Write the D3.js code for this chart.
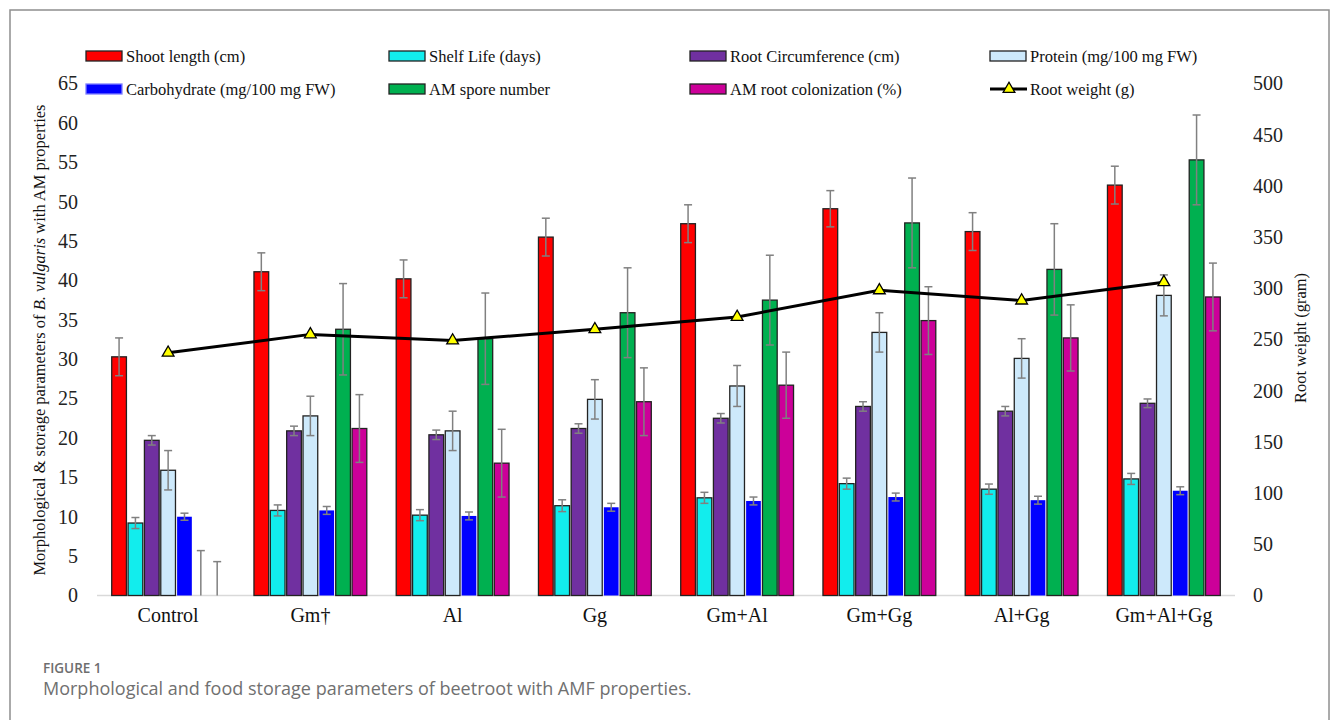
<!DOCTYPE html>
<html>
<head>
<meta charset="utf-8">
<script src="https://cdn.jsdelivr.net/npm/d3@7"></script>
<style>
  body { margin: 0; background: #fff; }
</style>
</head>
<body>
<div id="chart"></div>
<script>
// data
var groups = ["Control", "Gm\u2020", "Al", "Gg", "Gm+Al", "Gm+Gg", "Al+Gg", "Gm+Al+Gg"];
var shootLength = [30.3, 41.1, 40.2, 45.5, 47.2, 49.1, 46.2, 52.1];
var shootErr = [2.4, 2.4, 2.4, 2.4, 2.4, 2.3, 2.4, 2.4];
var shelfLife = [9.2, 10.8, 10.2, 11.4, 12.4, 14.2, 13.5, 14.8];
var shelfErr = [0.7, 0.7, 0.7, 0.75, 0.7, 0.7, 0.65, 0.7];
var rootCirc = [19.7, 20.9, 20.4, 21.2, 22.5, 24.0, 23.4, 24.4];
var rootCircErr = [0.6, 0.6, 0.6, 0.6, 0.6, 0.6, 0.6, 0.55];
var protein = [15.9, 22.8, 20.9, 24.9, 26.6, 33.4, 30.1, 38.1];
var proteinErr = [2.5, 2.5, 2.5, 2.5, 2.6, 2.5, 2.5, 2.6];
var carbo = [10.0, 10.8, 10.1, 11.2, 12.0, 12.5, 12.1, 13.3];
var carboErr = [0.45, 0.5, 0.5, 0.5, 0.5, 0.5, 0.5, 0.5];
var spores = [0, 33.8, 32.6, 35.9, 37.5, 47.3, 41.4, 55.3];
var sporesErr = [5.7, 5.8, 5.8, 5.7, 5.7, 5.7, 5.8, 5.7];
var colon = [0, 21.2, 16.8, 24.6, 26.7, 34.9, 32.7, 37.9];
var colonErr = [4.3, 4.3, 4.3, 4.3, 4.2, 4.3, 4.2, 4.3];
var rootWeight = [237, 255, 249, 260, 272, 298, 288, 306];

var leftTicks = d3.range(0, 66, 5);
var rightTicks = d3.range(0, 501, 50);

var series = [
  { name: "Shoot length (cm)", values: shootLength, err: shootErr, color: "#ff0000", stroke: "#222" },
  { name: "Shelf Life (days)", values: shelfLife, err: shelfErr, color: "#12eded", stroke: "#222" },
  { name: "Root Circumference (cm)", values: rootCirc, err: rootCircErr, color: "#7030a0", stroke: "#222" },
  { name: "Protein (mg/100 mg FW)", values: protein, err: proteinErr, color: "#cde9fb", stroke: "#222" },
  { name: "Carbohydrate (mg/100 mg FW)", values: carbo, err: carboErr, color: "#0000ff", stroke: "none" },
  { name: "AM spore number", values: spores, err: sporesErr, color: "#00b050", stroke: "#222" },
  { name: "AM root colonization (%)", values: colon, err: colonErr, color: "#cc0099", stroke: "#222" }
];

var serif = "'Liberation Serif', 'Times New Roman', serif";
var sans = "'Open Sans', 'Noto Sans', sans-serif";

var W = 1333, H = 720;
var svg = d3.select("#chart").append("svg")
    .attr("width", W).attr("height", H);

svg.append("rect").attr("width", W).attr("height", H).attr("fill", "#fff");
// outer frame
svg.append("rect")
    .attr("x", 10).attr("y", 10).attr("width", 1319).attr("height", 740)
    .attr("fill", "none").attr("stroke", "#8f8f8f").attr("stroke-width", 1.5);

var plotLeft = 97, plotRight = 1235, plotTop = 83.5, plotBottom = 595.5;

var x0 = d3.scaleBand().domain(groups).range([plotLeft, plotRight])
    .paddingInner(0.2).paddingOuter(0.1);
var x1 = d3.scaleBand().domain(d3.range(series.length)).range([0, x0.bandwidth()])
    .paddingInner(0.1).paddingOuter(0.03);
var y = d3.scaleLinear().domain([0, 65]).range([plotBottom, plotTop]);
var yR = d3.scaleLinear().domain([0, 500]).range([plotBottom, plotTop]);

// left axis
var yAxis = svg.append("g")
    .attr("transform", "translate(78,0)")
    .call(d3.axisLeft(y).tickValues(leftTicks).tickSize(0).tickPadding(0));
yAxis.select(".domain").remove();
yAxis.selectAll("text").attr("font-size", 20).attr("fill", "#222")
    .style("font-family", serif);

// right axis
var yAxisR = svg.append("g")
    .attr("transform", "translate(1253,0)")
    .call(d3.axisRight(yR).tickValues(rightTicks).tickSize(0).tickPadding(0));
yAxisR.select(".domain").remove();
yAxisR.selectAll("text").attr("font-size", 20).attr("fill", "#222")
    .style("font-family", serif);

// baseline
svg.append("line")
    .attr("x1", plotLeft).attr("x2", plotRight)
    .attr("y1", y(0)).attr("y2", y(0))
    .attr("stroke", "#d9d9d9").attr("stroke-width", 1.5);

// x axis labels
var xAxis = svg.append("g")
    .attr("transform", `translate(0,${plotBottom + 12})`)
    .call(d3.axisBottom(x0).tickSize(0).tickPadding(0));
xAxis.select(".domain").remove();
xAxis.selectAll("text").attr("font-size", 20).attr("fill", "#111")
    .style("font-family", serif);

// bars
var gGroups = svg.append("g").selectAll("g")
    .data(groups)
    .enter().append("g")
    .attr("transform", d => `translate(${x0(d)},0)`);

gGroups.each(function (g, gi) {
  var sel = d3.select(this);
  series.forEach(function (s, si) {
    var v = s.values[gi];
    if (v > 0) {
      sel.append("rect")
          .attr("x", x1(si))
          .attr("y", y(v))
          .attr("width", x1.bandwidth())
          .attr("height", y(0) - y(v))
          .attr("fill", s.color)
          .attr("stroke", s.stroke)
          .attr("stroke-width", 1.3);
    }
  });
  series.forEach(function (s, si) {
    var v = s.values[gi], e = s.err[gi];
    var cx = x1(si) + x1.bandwidth() / 2;
    var lo = Math.max(0, v - e), hi = v + e;
    sel.append("line")
        .attr("x1", cx).attr("x2", cx)
        .attr("y1", y(lo)).attr("y2", y(hi))
        .attr("stroke", "#808080").attr("stroke-width", 1.5);
    sel.append("line")
        .attr("x1", cx - 4).attr("x2", cx + 4)
        .attr("y1", y(hi)).attr("y2", y(hi))
        .attr("stroke", "#808080").attr("stroke-width", 1.5);
    if (v - e > 0) {
      sel.append("line")
          .attr("x1", cx - 4).attr("x2", cx + 4)
          .attr("y1", y(lo)).attr("y2", y(lo))
          .attr("stroke", "#808080").attr("stroke-width", 1.5);
    }
  });
});

// root weight line (right axis)
var line = d3.line()
    .x((d, i) => x0(groups[i]) + x0.bandwidth() / 2)
    .y(d => yR(d));
svg.append("path")
    .datum(rootWeight)
    .attr("d", line)
    .attr("fill", "none")
    .attr("stroke", "#000")
    .attr("stroke-width", 3);

var tri = d3.symbol().type(d3.symbolTriangle).size(60);
svg.append("g").selectAll("path")
    .data(rootWeight)
    .enter().append("path")
    .attr("d", tri)
    .attr("transform", (d, i) => `translate(${x0(groups[i]) + x0.bandwidth() / 2},${yR(d)})`)
    .attr("fill", "#ffff00")
    .attr("stroke", "#000")
    .attr("stroke-width", 1.3);

// legend
var legendCols = [86, 389, 690, 990];
var legendRows = [56, 89];
var legendItems = [
  { s: series[0], c: 0, r: 0 }, { s: series[1], c: 1, r: 0 },
  { s: series[2], c: 2, r: 0 }, { s: series[3], c: 3, r: 0 },
  { s: series[4], c: 0, r: 1 }, { s: series[5], c: 1, r: 1 },
  { s: series[6], c: 2, r: 1 }
];
var legend = svg.append("g");
legendItems.forEach(function (it) {
  var lx = legendCols[it.c], ly = legendRows[it.r];
  legend.append("rect")
      .attr("x", lx).attr("y", ly - 5)
      .attr("width", 36).attr("height", 10)
      .attr("fill", it.s.color)
      .attr("stroke", it.s.stroke === "none" ? "#7f7fff" : "#222")
      .attr("stroke-width", 1.3);
  legend.append("text")
      .attr("x", lx + 40).attr("y", ly)
      .attr("dy", "0.35em")
      .attr("font-size", 16.5).attr("fill", "#111")
      .style("font-family", serif)
      .text(it.s.name);
});
// root weight legend entry
legend.append("line")
    .attr("x1", 990).attr("x2", 1027)
    .attr("y1", legendRows[1]).attr("y2", legendRows[1])
    .attr("stroke", "#000").attr("stroke-width", 3);
legend.append("path")
    .attr("d", tri)
    .attr("transform", `translate(1009,${legendRows[1]})`)
    .attr("fill", "#ffff00").attr("stroke", "#000").attr("stroke-width", 1.3);
legend.append("text")
    .attr("x", 1030).attr("y", legendRows[1])
    .attr("dy", "0.35em")
    .attr("font-size", 16.5).attr("fill", "#111")
    .style("font-family", serif)
    .text("Root weight (g)");

// axis titles
var yTitle = svg.append("text")
    .attr("transform", "translate(45,340) rotate(-90)")
    .attr("text-anchor", "middle")
    .attr("font-size", 16.5).attr("fill", "#111")
    .style("font-family", serif);
yTitle.append("tspan").text("Morphological & storage parameters of ");
yTitle.append("tspan").attr("font-style", "italic").text("B. vulgaris");
yTitle.append("tspan").text(" with AM properties");

svg.append("text")
    .attr("transform", "translate(1306,338) rotate(-90)")
    .attr("text-anchor", "middle")
    .attr("font-size", 16.5).attr("fill", "#111")
    .style("font-family", serif)
    .text("Root weight (gram)");

// caption
svg.append("text")
    .attr("x", 43).attr("y", 673)
    .attr("font-size", 13.5).attr("font-weight", 600).attr("fill", "#6e6e6e")
    .style("font-family", sans)
    .text("FIGURE 1");
svg.append("text")
    .attr("x", 43).attr("y", 695)
    .attr("font-size", 18).attr("fill", "#707070")
    .style("font-family", sans)
    .text("Morphological and food storage parameters of beetroot with AMF properties.");
</script>
</body>
</html>
